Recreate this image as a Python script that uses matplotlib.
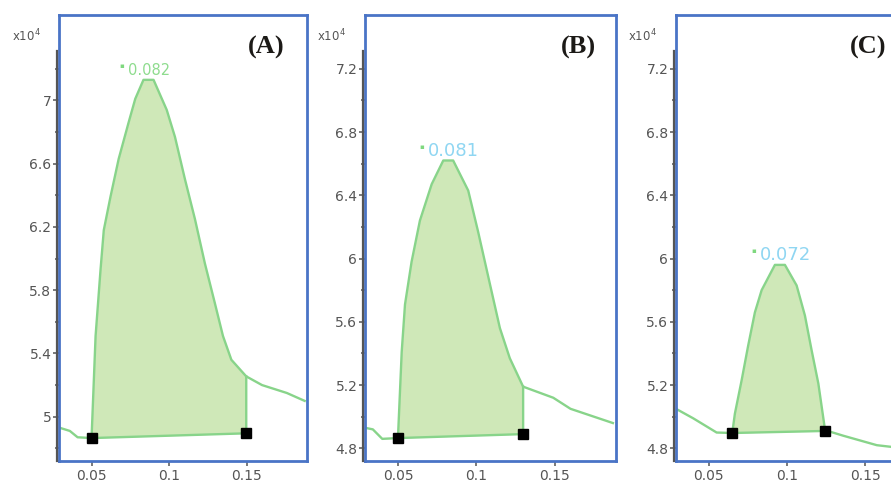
import numpy as np
import matplotlib
matplotlib.use("Agg")
import matplotlib.pyplot as plt
from matplotlib.ticker import FixedLocator, FuncFormatter

# ---------------- data ----------------
panel_letters = ["(A)", "(B)", "(C)"]
peak_labels = ["0.082", "0.081", "0.072"]

a_x = [0.0295, 0.036, 0.041, 0.050, 0.0526, 0.0558, 0.0579, 0.0622, 0.0675, 0.0739,
       0.0782, 0.0835, 0.0900, 0.0985, 0.1038, 0.1103, 0.1167, 0.1231, 0.1295,
       0.1348, 0.1402, 0.1498, 0.160, 0.176, 0.1875]
a_y = [4.93, 4.91, 4.87, 4.865, 5.51, 5.93, 6.18, 6.39, 6.63, 6.86,
       7.01, 7.13, 7.13, 6.94, 6.77, 6.50, 6.25, 5.97, 5.72,
       5.51, 5.36, 5.255, 5.20, 5.15, 5.10]
a_marks_x = [0.050, 0.1498]
a_marks_y = [4.865, 4.895]

b_x = [0.029, 0.034, 0.040, 0.050, 0.0524, 0.0545, 0.0587, 0.064, 0.0715, 0.0789,
       0.0852, 0.0948, 0.1011, 0.1086, 0.115, 0.1213, 0.1298, 0.149, 0.160, 0.187]
b_y = [4.93, 4.92, 4.86, 4.865, 5.41, 5.71, 5.98, 6.24, 6.47, 6.62,
       6.62, 6.43, 6.17, 5.84, 5.56, 5.37, 5.19, 5.12, 5.05, 4.96]
b_marks_x = [0.050, 0.1298]
b_marks_y = [4.865, 4.89]

c_x = [0.029, 0.040, 0.050, 0.055, 0.065, 0.0667, 0.0710, 0.0752, 0.0795, 0.0838,
       0.0923, 0.0987, 0.1062, 0.1115, 0.1158, 0.1201, 0.1244, 0.136, 0.1575,
       0.175, 0.189]
c_y = [5.05, 4.99, 4.93, 4.90, 4.897, 5.02, 5.23, 5.45, 5.66, 5.80,
       5.96, 5.96, 5.83, 5.64, 5.42, 5.21, 4.915, 4.88, 4.82,
       4.80, 4.79]
c_marks_x = [0.065, 0.1244]
c_marks_y = [4.897, 4.91]

a_yticks = [5.0, 5.4, 5.8, 6.2, 6.6, 7.0]
bc_yticks = [4.8, 5.2, 5.6, 6.0, 6.4, 6.8, 7.2]
x_ticks = [0.05, 0.1, 0.15]
x_ticklabels = ["0.05", "0.1", "0.15"]

# ---------------- style ----------------
W, H = 891, 487
DPI = 100
LINE = "#88d48a"
FILL = "#cfe8b8"
BLUE = "#4a74c6"
GRAY = "#555555"
label_colors = ["#8edc8e", "#8fd6f2", "#8fd6f2"]
label_sizes = [10.5, 13, 13]
YMIN, YMAX, YSPINE = 4.72, 7.54, 7.31

fig = plt.figure(figsize=(W / DPI, H / DPI), dpi=DPI)

boxes = [(59, 307), (365, 616), (676, 926)]
top_px, bot_px = 15, 461

panels = [
    (a_x, a_y, a_marks_x, a_marks_y, a_yticks),
    (b_x, b_y, b_marks_x, b_marks_y, bc_yticks),
    (c_x, c_y, c_marks_x, c_marks_y, bc_yticks),
]

letter_pos = [0.835, 0.849, 0.768]

for i, ((xs, ys, mx, my, yt), (l, r)) in enumerate(zip(panels, boxes)):
    ax = fig.add_axes([l / W, 1 - bot_px / H, (r - l) / W, (bot_px - top_px) / H])
    xs = np.asarray(xs); ys = np.asarray(ys)
    ax.set_xlim(0.029, 0.189)
    ax.set_ylim(YMIN, YMAX)

    # fill region between markers
    sel = (xs >= mx[0] - 1e-9) & (xs <= mx[1] + 1e-9)
    fx = xs[sel]; fy = ys[sel]
    base = np.interp(fx, mx, my)
    ax.fill_between(fx, base, fy, color=FILL, lw=0, zorder=1)
    # trace
    ax.plot(xs, ys, color=LINE, lw=1.7, zorder=2, solid_joinstyle="round")
    # baseline + right vertical
    ax.plot([mx[0], mx[1], mx[1]], [my[0], my[1], fy[-1]], color=LINE, lw=1.7, zorder=2)
    # markers
    ax.plot(mx, my, "s", color="black", ms=6.5, zorder=4)

    # peak label
    k = int(np.argmax(ys))
    ax.annotate(peak_labels[i], xy=(xs[k], ys[k]), xytext=(-11, 7),
                textcoords="offset points", ha="left", va="center",
                color=label_colors[i], fontsize=label_sizes[i], zorder=5)
    ax.annotate("\u25aa", xy=(xs[k], ys[k]), xytext=(-17, 10), textcoords="offset points",
                ha="left", va="center", color="#7fd87f", fontsize=5)

    # panel letter
    ax.text(letter_pos[i], 0.928, panel_letters[i], transform=ax.transAxes,
            ha="center", va="center", fontsize=19, fontweight="bold",
            family="Liberation Serif", color="#1c1a17")

    # exponent label
    ax.text(-0.19, 0.952, r"x10$^{4}$", transform=ax.transAxes, ha="left",
            va="center", fontsize=8.5, color=GRAY)

    # spines
    for s in ["top", "right", "bottom"]:
        ax.spines[s].set_color(BLUE)
        ax.spines[s].set_linewidth(2.0)
    ax.spines["left"].set_visible(False)
    ax.plot([0, 0], [0, 1], transform=ax.transAxes, color=BLUE, lw=2.0,
            clip_on=False, zorder=6)
    ax.plot([-0.008, -0.008], [0, (YSPINE - YMIN) / (YMAX - YMIN)],
            transform=ax.transAxes, color=GRAY, lw=1.6, clip_on=False, zorder=7)

    # ticks
    ax.yaxis.set_major_locator(FixedLocator(yt))
    ax.yaxis.set_major_formatter(FuncFormatter(lambda v, p: f"{v:g}"))
    minors = [v for v in [t - 0.2 for t in yt] + [yt[-1] + 0.2] if YMIN < v < YSPINE]
    ax.yaxis.set_minor_locator(FixedLocator(minors))
    ax.set_xticks(x_ticks)
    ax.set_xticklabels(x_ticklabels)
    ax.tick_params(axis="y", which="major", direction="out", length=4, width=1.1,
                   color=GRAY, labelcolor=GRAY, labelsize=10, pad=1.5)
    ax.tick_params(axis="y", which="minor", direction="out", length=3, width=1.1,
                   color=GRAY)
    ax.tick_params(axis="x", which="major", direction="out", length=3.5, width=1.1,
                   color=GRAY, labelcolor=GRAY, labelsize=10, pad=2)

fig.savefig("out.png", dpi=DPI)
